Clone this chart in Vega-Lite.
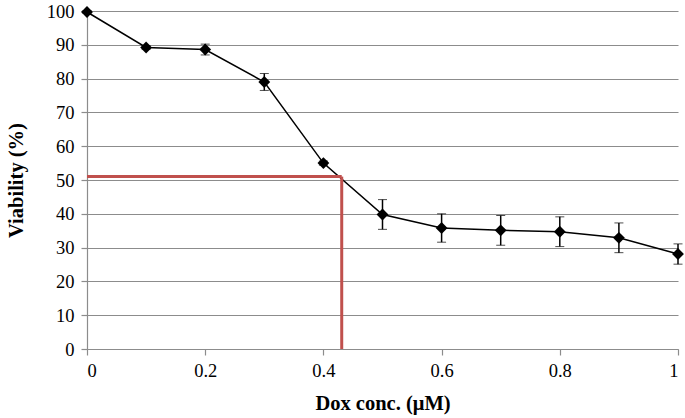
{
  "$schema": "https://vega.github.io/schema/vega-lite/v6.json",
  "width": 591,
  "height": 338,
  "autosize": {"type": "none"},
  "padding": {"left": 87, "top": 11, "right": 7, "bottom": 69},
  "background": "white",
  "config": {
    "view": {"stroke": null},
    "font": "Liberation Serif",
    "axis": {
      "labelFont": "Liberation Serif",
      "titleFont": "Liberation Serif",
      "labelColor": "black",
      "titleColor": "black",
      "labelFontSize": 18.5,
      "titleFontSize": 20.5,
      "titleFontWeight": "bold",
      "domainColor": "#8c8c8c",
      "tickColor": "#8c8c8c",
      "gridColor": "#8c8c8c",
      "domainWidth": 1.2,
      "tickWidth": 1.2,
      "gridWidth": 1.2,
      "labelOverlap": false
    }
  },
  "datasets": {
    "pts": [
      {"dose": 0.0, "viability": 99.7, "err": 0.4},
      {"dose": 0.1, "viability": 89.2, "err": 0.5},
      {"dose": 0.2, "viability": 88.6, "err": 1.6},
      {"dose": 0.3, "viability": 79.0, "err": 2.5},
      {"dose": 0.4, "viability": 55.0, "err": 0.6},
      {"dose": 0.5, "viability": 39.8, "err": 4.4},
      {"dose": 0.6, "viability": 35.8, "err": 4.2},
      {"dose": 0.7, "viability": 35.1, "err": 4.4},
      {"dose": 0.8, "viability": 34.7, "err": 4.4},
      {"dose": 0.9, "viability": 32.9, "err": 4.4},
      {"dose": 1.0, "viability": 28.1, "err": 3.0}
    ],
    "ic50": [
      {"dose": 0, "x2": 0.431, "viability": 51, "y2": 51},
      {"dose": 0.431, "x2": 0.431, "viability": 0, "y2": 51}
    ]
  },
  "encoding": {
    "x": {
      "field": "dose", "type": "quantitative",
      "scale": {"domain": [0, 1], "nice": false},
      "axis": {
        "title": "Dox conc. (μM)",
        "titleFont": "Liberation Serif",
        "labelFont": "Liberation Serif",
        "values": [0, 0.2, 0.4, 0.6, 0.8, 1],
        "format": "~g",
        "grid": false,
        "tickSize": 6,
        "labelPadding": 6,
        "titlePadding": 14
      }
    },
    "y": {
      "field": "viability", "type": "quantitative",
      "scale": {"domain": [0, 100], "nice": false},
      "axis": {
        "title": "Viability (%)",
        "titleFont": "Liberation Serif",
        "labelFont": "Liberation Serif",
        "values": [0, 10, 20, 30, 40, 50, 60, 70, 80, 90, 100],
        "grid": true,
        "tickSize": 6,
        "labelPadding": 7,
        "titlePadding": 20
      }
    }
  },
  "layer": [
    {
      "data": {"name": "pts"},
      "mark": {"type": "line", "color": "black", "strokeWidth": 1.5}
    },
    {
      "data": {"name": "ic50"},
      "mark": {"type": "rule", "color": "#c0504d", "strokeWidth": 3},
      "encoding": {
        "x2": {"field": "x2"},
        "y2": {"field": "y2"}
      }
    },
    {
      "data": {"name": "pts"},
      "mark": {"type": "errorbar", "ticks": {"size": 9, "color": "black", "strokeWidth": 1.5}, "rule": {"color": "black", "strokeWidth": 1.5}},
      "encoding": {
        "yError": {"field": "err"}
      }
    },
    {
      "data": {"name": "pts"},
      "mark": {"type": "point", "shape": "diamond", "filled": true, "color": "black", "opacity": 1, "size": 140}
    }
  ]
}
